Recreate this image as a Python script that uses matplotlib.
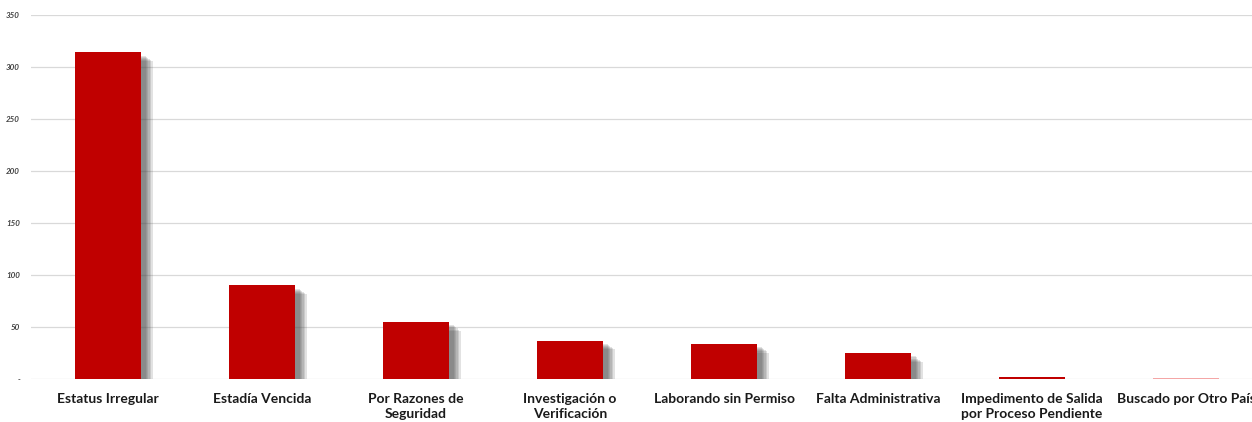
import matplotlib
matplotlib.use("Agg")
import matplotlib.pyplot as plt
import matplotlib.patheffects as pe
from matplotlib.ticker import FuncFormatter

categorias = ["Estatus Irregular", "Estadía Vencida", "Por Razones de\nSeguridad",
              "Investigación o\nVerificación", "Laborando sin Permiso", "Falta Administrativa",
              "Impedimento de Salida\npor Proceso Pendiente", "Buscado por Otro País"]
valores = [314, 90, 55, 37, 34, 25, 2, 1]
colores = ["#c00000"] * 7 + ["#f4a6a6"]

plt.rcParams["font.family"] = ["Lato", "DejaVu Sans"]

fig = plt.figure(figsize=(12.52, 4.22), dpi=100)
ax = fig.add_axes([31 / 1252, 43 / 422, 1232 / 1252, 364 / 422])

x = list(range(len(categorias)))

# blurred shadow: several offset copies with low alpha
sombra = []
for d in [3.0, 4.0, 5.0, 6.0, 7.0, 8.0]:
    sombra.append(pe.SimplePatchShadow(offset=(d, -d * 0.8), shadow_rgbFace="#4d4d4d", alpha=0.16))
sombra.append(pe.Normal())

barras = ax.bar(x, valores, width=0.435, color=colores, zorder=3)
for b, v in zip(barras, valores):
    if v > 5:
        b.set_path_effects(sombra)

ax.set_xlim(-0.5, len(categorias) - 0.5)
ax.set_ylim(0, 350)
ax.set_yticks(range(0, 351, 50))
ax.yaxis.set_major_formatter(FuncFormatter(lambda v, p: "-" if v == 0 else f"{int(v)}"))
ax.grid(axis="y", color="#d9d9d9", linewidth=0.9, zorder=0)
ax.set_axisbelow(True)

for s in ax.spines.values():
    s.set_visible(False)
ax.tick_params(axis="y", length=0, labelsize=5.8, pad=8, labelcolor="#404040")
ax.tick_params(axis="x", length=0, pad=10)
for t in ax.get_yticklabels():
    t.set_fontstyle("italic")
    t.set_fontweight("bold")

ax.set_xticks(x)
ax.set_xticklabels(categorias, fontsize=10, fontweight="bold", color="#1a1a1a", linespacing=1.3)

fig.savefig("out.png", dpi=100)
